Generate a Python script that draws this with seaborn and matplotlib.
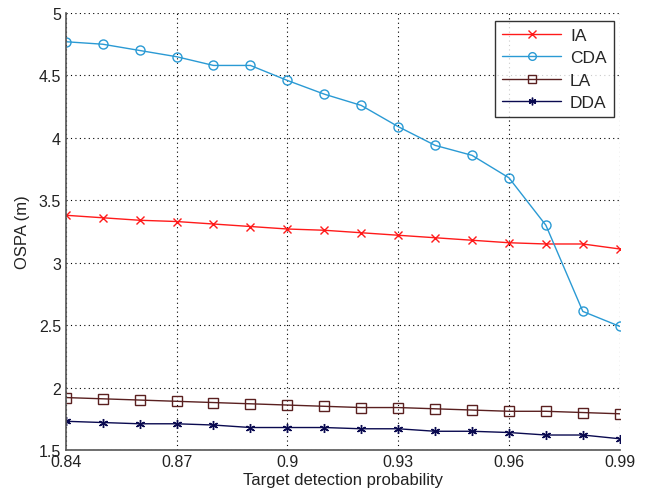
import numpy as np
import pandas as pd
import matplotlib
matplotlib.use("Agg")
import matplotlib.pyplot as plt
import seaborn as sns

x_vals = [0.84, 0.85, 0.86, 0.87, 0.88, 0.89, 0.90, 0.91, 0.92, 0.93, 0.94, 0.95, 0.96, 0.97, 0.98, 0.99]
ia = [3.38, 3.36, 3.34, 3.33, 3.31, 3.29, 3.27, 3.26, 3.24, 3.22, 3.20, 3.18, 3.16, 3.15, 3.15, 3.11]
cda = [4.77, 4.75, 4.70, 4.65, 4.58, 4.58, 4.46, 4.35, 4.26, 4.09, 3.94, 3.86, 3.68, 3.30, 2.61, 2.49]
la = [1.92, 1.91, 1.90, 1.89, 1.88, 1.87, 1.86, 1.85, 1.84, 1.84, 1.83, 1.82, 1.81, 1.81, 1.80, 1.79]
dda = [1.73, 1.72, 1.71, 1.71, 1.70, 1.68, 1.68, 1.68, 1.67, 1.67, 1.65, 1.65, 1.64, 1.62, 1.62, 1.59]
series_names = ["IA", "CDA", "LA", "DDA"]
x_ticks = [0.84, 0.87, 0.90, 0.93, 0.96, 0.99]
x_ticklabels = ["0.84", "0.87", "0.9", "0.93", "0.96", "0.99"]
y_ticks = [1.5, 2, 2.5, 3, 3.5, 4, 4.5, 5]
y_ticklabels = ["1.5", "2", "2.5", "3", "3.5", "4", "4.5", "5"]

df = pd.concat([
    pd.DataFrame({"p": x_vals, "ospa": vals, "method": name})
    for name, vals in zip(series_names, [ia, cda, la, dda])
], ignore_index=True)

sns.set_style("white")
plt.rcParams["font.family"] = ["Liberation Sans", "DejaVu Sans"]

colors = {"IA": "#ff1a1a", "CDA": "#2a9ad4", "LA": "#5a2020", "DDA": "#0a0a50"}
markers = {"IA": "x", "CDA": "o", "LA": "s", "DDA": (6, 2, 0)}
msizes = {"IA": 6, "CDA": 6.5, "LA": 6.5, "DDA": 6.5}

fig = plt.figure(figsize=(6.51, 5.02), dpi=100)
ax = fig.add_axes([0.101, 0.1016, 0.851, 0.8705])

for name in series_names:
    sub = df[df["method"] == name]
    mfc = "none" if name in ("CDA", "LA") else colors[name]
    sns.lineplot(data=sub, x="p", y="ospa", ax=ax, color=colors[name],
                 marker=markers[name], markersize=msizes[name],
                 markerfacecolor=mfc, markeredgecolor=colors[name],
                 markeredgewidth=1.0, linewidth=1.0, label=name)

ax.set_xlim(0.84, 0.99)
ax.set_ylim(1.5, 5)
ax.set_xticks(x_ticks)
ax.set_xticklabels(x_ticklabels)
ax.set_yticks(y_ticks)
ax.set_yticklabels(y_ticklabels)
ax.grid(True, linestyle=(0, (1, 3)), color="black", linewidth=0.8)
ax.tick_params(direction="in", length=4, labelsize=11.5, colors="#333333",
               labelcolor="#222222")
ax.tick_params(axis="x", pad=3)
for s in ["top", "right"]:
    ax.spines[s].set_visible(False)
for s in ["left", "bottom"]:
    ax.spines[s].set_color("#555555")
    ax.spines[s].set_linewidth(1.2)
ax.set_xlabel("Target detection probability", fontsize=12, color="#222222", labelpad=2)
ax.set_ylabel("OSPA (m)", fontsize=12, color="#222222", labelpad=6)

leg = ax.legend(loc="upper right", bbox_to_anchor=(0.989, 0.982), borderaxespad=0,
                fontsize=12.5, frameon=True, fancybox=False, edgecolor="black",
                handlelength=3.4, borderpad=0.4, labelspacing=0.42,
                handletextpad=0.5, markerscale=0.85)
leg.get_frame().set_linewidth(1.0)

fig.savefig("out.png", dpi=100)
